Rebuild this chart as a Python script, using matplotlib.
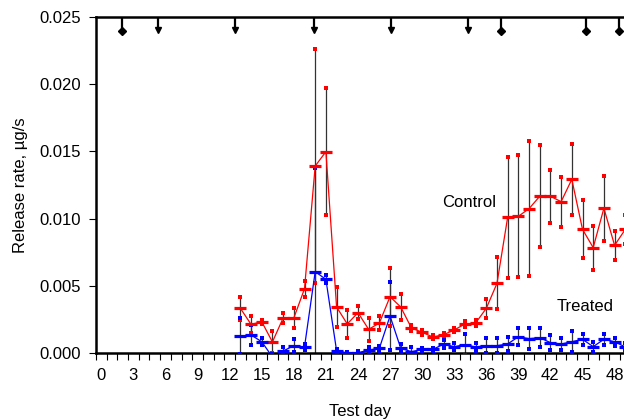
import numpy as np
import matplotlib
matplotlib.use("Agg")
from matplotlib import pyplot as plt

plt.rcParams['font.family'] = ['Liberation Sans', 'DejaVu Sans']

# data
days = list(range(13, 50))
control = [0.00333, 0.00213, 0.00233, 0.00082, 0.0026, 0.0026, 0.00478, 0.01391, 0.01498,
           0.00342, 0.00216, 0.0030, 0.00176, 0.00223, 0.00419, 0.00342, 0.00186, 0.00154,
           0.00119, 0.00136, 0.00171, 0.00216, 0.00223, 0.00332, 0.00518, 0.0101, 0.01017,
           0.01074, 0.01166, 0.01166, 0.01126, 0.01292, 0.0092, 0.00784, 0.01077, 0.00801,
           0.0092]
control_err = [0.00086, 0.00062, 0.00015, 0.00082, 0.0004, 0.00073, 0.00058, 0.00873, 0.00472,
               0.00149, 0.00105, 0.0005, 0.00085, 0.0005, 0.00216, 0.00097, 0.0002, 0.00017,
               0.00013, 0.00013, 0.00015, 0.00025, 0.0002, 0.00068, 0.00194, 0.00452, 0.00454,
               0.00503, 0.0038, 0.00196, 0.00186, 0.00265, 0.00216, 0.00164, 0.0024, 0.0011,
               0.0011]
treated = [0.00126, 0.00134, 0.00084, -0.0003, 0.00015, 0.00054, 0.00045, 0.00605, 0.00548,
           0.00017, 0.0, 0.00002, 0.00022, 0.00035, 0.00275, 0.00035, 0.0001, 0.00027,
           0.00027, 0.00065, 0.00047, 0.00062, 0.00045, 0.00055, 0.00055, 0.00067, 0.00121,
           0.00107, 0.00114, 0.00077, 0.00067, 0.00084, 0.00102, 0.00047, 0.00102, 0.00084,
           0.00045]
treated_err = [0.00137, 0.00072, 0.00028, 0.0002, 0.0003, 0.00048, 0.00021, 0.00769, 0.0003,
               0.0001, 0.0001, 0.0001, 0.0002, 0.0002, 0.0025, 0.0003, 0.00035, 0.0001,
               0.0001, 0.0003, 0.00028, 0.00079, 0.0003, 0.00054, 0.00057, 0.00053, 0.00063,
               0.0008, 0.0007, 0.00058, 0.00047, 0.0008, 0.0004, 0.00037, 0.0004, 0.0003,
               0.0003]

# events marked along the top of the chart
arrow_days = [5.3, 12.5, 19.9, 27.1, 34.3]
diamond_days = [1.9, 37.4, 45.3, 48.4]

fig = plt.figure(figsize=(6.24, 4.2), dpi=100)
ax = fig.add_axes([96 / 624, 67 / 420, 528 / 624, 336 / 420])


def draw_series(vals, err, color):
    vals = np.array(vals)
    err = np.array(err)
    lo = vals - err
    hi = vals + err
    ax.vlines(days, lo, hi, color='#333333', lw=0.9, zorder=2)
    ax.plot(days, hi, 's', color=color, ms=2.5, mew=0, zorder=3)
    ax.plot(days, lo, 's', color=color, ms=2.5, mew=0, zorder=3)
    ax.plot(days, vals, '-', color=color, lw=0.9, marker='_', ms=9, mew=2.3, zorder=4)


draw_series(control, control_err, '#FF0000')
draw_series(treated, treated_err, '#0000FF')

# top markers
ax.vlines(arrow_days + diamond_days, 0.02406, 0.025, color='black', lw=1.6, zorder=5)
ax.plot(arrow_days, [0.02406] * len(arrow_days), 'v', color='black', ms=5, zorder=5)
ax.plot(diamond_days, [0.02396] * len(diamond_days), 'D', color='black', ms=3.6, zorder=5)

ax.text(34.4, 0.01117, 'Control', fontsize=12, ha='center', va='center')
ax.text(45.2, 0.00345, 'Treated', fontsize=12, ha='center', va='center')

ax.set_xlim(-0.5, 48.88)
ax.set_ylim(0, 0.025)
ax.set_xticks(range(0, 49, 3))
ax.set_xticks(np.arange(-0.5, 49, 1), minor=True)
ax.tick_params(axis='x', which='major', length=0, pad=11, labelsize=12)
ax.tick_params(axis='x', which='minor', length=5, width=0.8, direction='out')
ax.set_yticks(np.arange(0, 0.0251, 0.005))
ax.set_yticklabels(['%.3f' % v for v in np.arange(0, 0.0251, 0.005)])
ax.tick_params(axis='y', length=5, width=0.8, direction='out', pad=6, labelsize=12)

for side in ['left', 'bottom', 'top']:
    ax.spines[side].set_linewidth(1.8)
ax.spines['right'].set_visible(False)

ax.set_xlabel('Test day', fontsize=12, labelpad=15)
ax.set_ylabel('Release rate, µg/s', fontsize=12, labelpad=8)

fig.savefig('out.png', dpi=100)
